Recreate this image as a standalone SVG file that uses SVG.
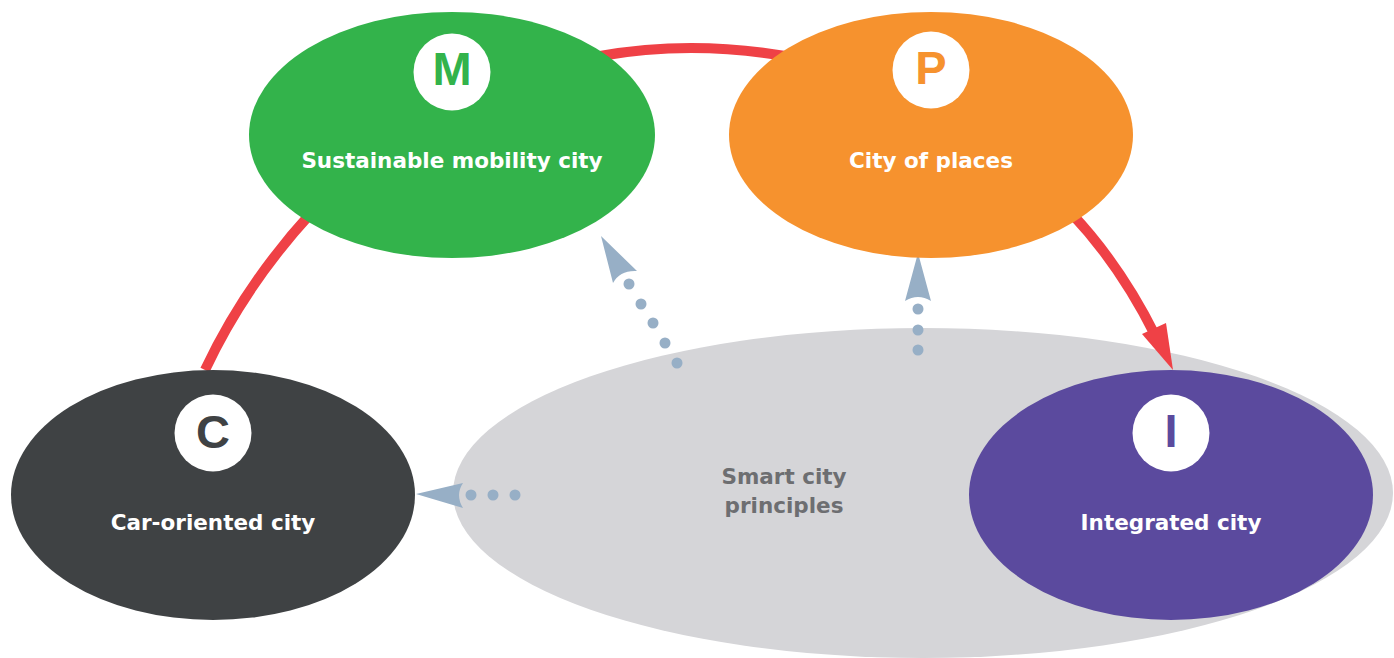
<svg xmlns="http://www.w3.org/2000/svg" width="1394" height="658" viewBox="0 0 1394 658">
<style>
.lbl{font-family:"DejaVu Sans","Liberation Sans",Arial,sans-serif;font-weight:bold;font-size:21.5px;fill:#ffffff;text-anchor:middle}
.ltr{font-family:"Liberation Sans",Arial,sans-serif;font-weight:bold;font-size:47px;text-anchor:middle}
.red{fill:none;stroke:#ef4146;stroke-width:10}
.dot{fill:#97afc6}
</style>
<rect width="1394" height="658" fill="#ffffff"/>
<g id="smart">
<ellipse cx="923" cy="493" rx="470" ry="165" fill="#d5d5d8"/>
<text class="lbl" x="784" y="484" style="fill:#6d6e71">Smart city</text>
<text class="lbl" x="784" y="513" style="fill:#6d6e71">principles</text>
</g>
<g id="connectors">
<path class="red" d="M205,370 Q245,285 312,212"/>
<path class="red" d="M600,56 Q690,40 785,56"/>
<path class="red" d="M1072,214 Q1120,265 1155,335"/>
<path fill="#ef4146" d="M1173,370 L1142,334 L1166,323 Z"/>
<g class="dot">
<path d="M601,236 L613,283 Q620,270 637,271 Z"/>
<circle cx="629" cy="284" r="5.5"/><circle cx="641" cy="304" r="5.5"/><circle cx="653" cy="323" r="5.5"/><circle cx="665" cy="343" r="5.5"/><circle cx="677" cy="363" r="5.5"/>
<path d="M918,253 L905,301 Q918,293 931,301 Z"/>
<circle cx="918" cy="309" r="5.5"/><circle cx="918" cy="330" r="5.5"/><circle cx="918" cy="350" r="5.5"/>
<path d="M416,494 L463,483 Q455,495 463,508 Z"/>
<circle cx="471" cy="495" r="5.5"/><circle cx="493" cy="495" r="5.5"/><circle cx="515" cy="495" r="5.5"/>
</g>
</g>
<g id="M">
<ellipse cx="452" cy="135" rx="203" ry="123" fill="#33b34b"/>
<circle cx="452" cy="72" r="38.5" fill="#ffffff"/>
<text class="ltr" x="452" y="85" fill="#33b34b">M</text>
<text class="lbl" x="452" y="168">Sustainable mobility city</text>
</g>
<g id="P">
<ellipse cx="931" cy="135" rx="202" ry="123" fill="#f6922e"/>
<circle cx="931" cy="70" r="38.5" fill="#ffffff"/>
<text class="ltr" x="931" y="84" fill="#f6922e">P</text>
<text class="lbl" x="931" y="168">City of places</text>
</g>
<g id="C">
<ellipse cx="213" cy="495" rx="202" ry="125" fill="#3f4244"/>
<circle cx="213" cy="433" r="38.5" fill="#ffffff"/>
<text class="ltr" x="213" y="448" fill="#3f4244">C</text>
<text class="lbl" x="213" y="530">Car-oriented city</text>
</g>
<g id="I">
<ellipse cx="1171" cy="495" rx="202" ry="125" fill="#5b4a9e"/>
<circle cx="1171" cy="433" r="38.5" fill="#ffffff"/>
<text class="ltr" x="1171" y="447" fill="#5b4a9e">I</text>
<text class="lbl" x="1171" y="530">Integrated city</text>
</g>
</svg>
